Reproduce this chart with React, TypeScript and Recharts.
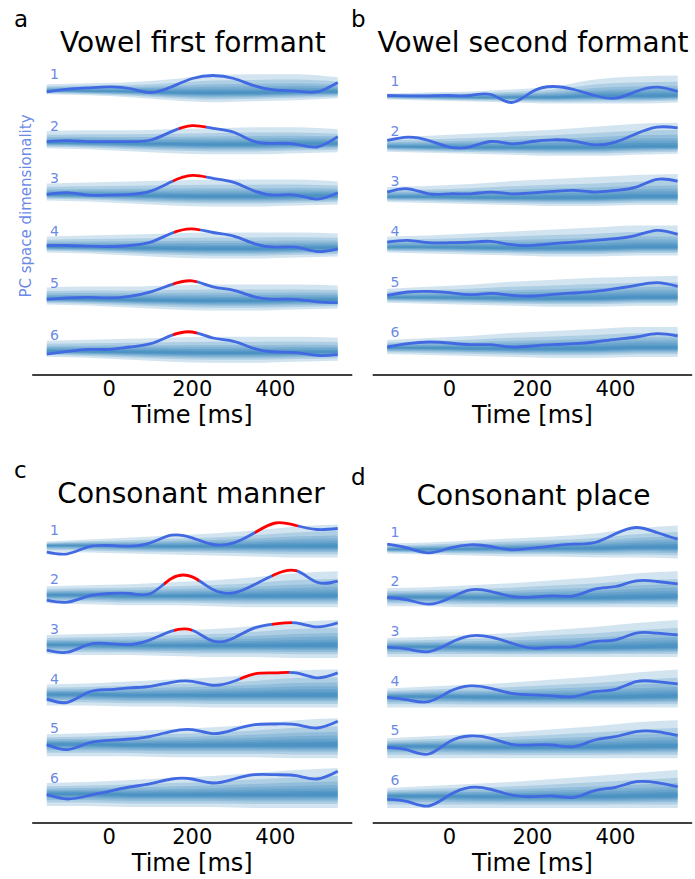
import React from 'react';
import { ComposedChart, Line, Area, XAxis, YAxis, ReferenceDot } from 'recharts';

// time grid of the traces (ms) and the coarser grid of the null bands
const times = [-150, -100, -50, 0, 50, 100, 150, 200, 250, 300, 350, 400, 450, 500, 550];
const bandTimes = [-150, -50, 50, 150, 250, 350, 450, 550];
const xTicks = [0, 200, 400];
const rowNames = ['1', '2', '3', '4', '5', '6'];
const titles = ['Vowel first formant', 'Vowel second formant', 'Consonant manner', 'Consonant place'];

// observed traces, one list per PC dimensionality (offset from the row baseline)
const traceA = [
  [-1.7, 1, 2.3, 3.3, 1.7, -2.3, 3.3, 11.7, 14.7, 11.7, 4.3, 0, -1, -1.7, 7.7],
  [0.7, 1.7, 0.7, 0.7, 0.7, 2.3, 10.7, 16.7, 14, 10, 0.7, -1, -2, -4.7, 5.7],
  [0, 1.7, -0.7, -0.7, 0, 3.3, 12.7, 19, 16, 12, 3.3, -0.7, -0.7, -4.7, 1.7],
  [1, 1, 0.3, 0, 1, 4.3, 13.3, 17.7, 14, 10.3, 2.7, -0.7, -0.7, -5, -2.3],
  [-0.7, 0.7, 1.3, 0.7, 2.3, 6.7, 14, 17.7, 11.7, 8.3, 1.7, -0.7, -0.7, -3.3, -4],
  [-3.3, -0.7, 1.3, 1.3, 3.7, 7, 15.3, 18.7, 12.7, 9.3, 2, -1.3, -2, -4.7, -4],
];
const traceB = [
  [1, 0.7, 0.7, 1, 1, 2, -6, 5, 10, 7, 1, -1.7, 5, 9.3, 5],
  [6.3, 9.7, 6.3, -0.3, 0, 5.3, 3, 5.3, 7, 5.7, 2, 4.7, 13, 19.7, 19],
  [5, 8.3, 3.3, 3.3, 3.3, 5, 3.3, 4.3, 5.7, 6.7, 5, 6.7, 10, 17.7, 16],
  [5.3, 7, 4.7, 4.7, 5.3, 6, 2.7, 2, 3.7, 5.3, 7, 8.7, 12, 17, 13],
  [2.3, 5.7, 6.3, 5, 3, 4.3, 2.3, 1.7, 3.3, 4.7, 6.3, 9, 12.3, 15, 11.3],
  [1, 4.3, 6, 5, 3.3, 3.3, 1, 2, 3.3, 4.3, 6, 8.7, 11, 14.3, 12],
];
const traceC = [
  [-6.7, -8.3, -1.3, 0, -0.7, 2.7, 10.3, 7.7, 1, 2.7, 12.7, 22.5, 20, 16, 17],
  [-5, -7, -1, 1.7, 1.7, 1.7, 16.7, 18.3, 5.7, 2.3, 10.7, 21, 24.5, 13, 14],
  [-5.3, -7.3, 0.3, 1.3, 0.3, 5.3, 13.7, 14.7, 3.7, 7, 17, 21, 22, 18, 22],
  [-4.3, -7.7, 2.3, 5, 6.7, 8.3, 12.3, 13.3, 9.3, 13.3, 20.7, 21.7, 21.7, 16.7, 21.7],
  [-0.3, -5.3, 1.3, 4, 5.3, 8, 13, 14.7, 10.7, 14.7, 19.7, 20.3, 19.7, 16.3, 23],
  [-0.7, -5, -1.7, 2.7, 7, 10.3, 15, 15, 11, 15, 19.3, 19.3, 18.3, 15, 22.7],
];
const traceD = [
  [3.3, -0.7, -5.3, -0.7, 2.7, 1, -2.3, -0.7, 1.7, 3.3, 5, 13.7, 20, 15, 8.3],
  [-0.3, -2.7, -7, -1, 7.3, 5.7, 0.7, 0, 1.3, 1.3, 8, 10.7, 16.3, 15.7, 13.3],
  [-0.3, -2.3, -4.7, 3.7, 11, 9.7, 3.7, -1.3, -0.3, 0.3, 5.3, 7, 13.7, 13.7, 12],
  [-0.7, -3.3, -5, 5, 10.7, 8.3, 3.3, 1.7, 0.7, 0, 5, 7.3, 15, 15, 12.7],
  [-1, -3.7, -7.7, 4.7, 10.3, 8, 2, 1.3, 1.3, -0.3, 6.3, 9.7, 14.7, 14.7, 10.7],
  [-3.3, -5.7, -10, 1, 8.7, 6.7, 1, -0.7, 0, -1.3, 5.3, 8.7, 14.3, 13.3, 9.3],
];

// null distribution: upper edge, centre, lower edge (on bandTimes)
const hiA = [
  [6, 7, 8, 11, 15, 16, 16, 13],
  [11, 12, 12, 13, 14, 15, 15, 13],
  [11, 12, 13, 14, 15, 15, 15, 13],
  [10, 11, 12, 13, 14, 14, 14, 13],
  [11, 12, 12, 13, 14, 14, 14, 13],
  [10, 11, 12, 13, 14, 14, 14, 13],
];
const midA = [
  [-0.5, -1, -1.5, -2.5, -3, -3, -2, -2],
  [-0.5, -1, -1.5, -2, -2.5, -2.5, -2, -1.5],
  [-0.5, -1, -1.5, -2, -2.5, -2.5, -2, -1.5],
  [-0.5, -1, -1.5, -2, -2.5, -2.5, -2, -1.5],
  [-0.5, -1, -1.5, -2, -2.5, -2.5, -2, -1.5],
  [-0.5, -1, -1.5, -2, -2.5, -2.5, -2, -1.5],
];
const loA = [
  [-4, -5, -7, -10, -12, -11, -10, -8],
  [-6, -7, -9, -11, -12, -12, -11, -10],
  [-6, -7, -9, -11, -12, -12, -11, -10],
  [-6, -7, -9, -11, -12, -12, -11, -10],
  [-6, -7, -9, -11, -12, -12, -11, -10],
  [-6, -7, -9, -11, -12, -12, -11, -10],
];
const hiB = [
  [3, 4, 5, 7, 10, 17, 20, 21],
  [9, 11, 13, 15, 17, 20, 23, 24],
  [10, 11, 13, 16, 18, 20, 22, 23],
  [11, 12, 14, 16, 18, 20, 22, 22],
  [9, 11, 13, 16, 18, 20, 21, 22],
  [8, 10, 12, 15, 17, 19, 21, 21],
];
const midB = [
  [0, -0.5, -1, -1, -1, 0, 0, 0.5],
  [0, -0.5, -1, -1, -1, -1, 0, 0],
  [0, 0, -0.5, -1, -1, -1, 0, 0],
  [0, 0, -0.5, -1, -1, -1, 0, 0],
  [0, 0, -0.5, -1, -1, -1, 0, 0],
  [0, 0, -0.5, -1, -1, -1, 0, 0],
];
const loB = [
  [-3, -4, -5, -6, -7, -7, -7, -6],
  [-5, -6, -7, -8, -9, -9, -8, -7],
  [-5, -6, -7, -8, -9, -9, -8, -8],
  [-5, -6, -7, -8, -9, -9, -8, -8],
  [-5, -6, -7, -8, -9, -9, -8, -8],
  [-6, -7, -8, -9, -10, -10, -9, -9],
];
const hiC = [
  [4, 6, 8, 10, 12, 15, 19, 21],
  [9, 10, 11, 13, 15, 18, 22, 24],
  [10, 11, 12, 14, 16, 19, 23, 25],
  [10, 11, 13, 15, 17, 20, 24, 25],
  [10, 11, 13, 15, 17, 20, 24, 26],
  [11, 12, 14, 16, 18, 21, 24, 26],
];
const midC = [
  [0, 0, -1, -1, -1, -1, -1, -1],
  [0, 0, -1, -1, -1, -1, -1, -1],
  [0, 0, -1, -1, -1, -1, -1, -1],
  [0, 0, -1, -1, -1, -1, -1, -1],
  [0, 0, -1, -1, -1, -1, -1, -1],
  [0, 0, -1, -1, -1, -1, -1, -1],
];
const loC = [
  [-6, -7, -8, -9, -10, -11, -12, -12],
  [-8, -9, -10, -10, -11, -12, -12, -12],
  [-9, -10, -10, -11, -12, -12, -13, -13],
  [-11, -11, -12, -12, -13, -13, -13, -13],
  [-12, -12, -12, -13, -13, -13, -14, -14],
  [-12, -12, -13, -13, -13, -14, -14, -14],
];
const hiD = [
  [4, 5, 7, 9, 11, 14, 19, 22],
  [9, 10, 12, 14, 17, 20, 24, 26],
  [9, 10, 12, 14, 17, 20, 24, 27],
  [8, 10, 12, 14, 17, 20, 24, 27],
  [8, 10, 12, 14, 17, 20, 24, 26],
  [8, 10, 12, 14, 17, 20, 23, 26],
];
const midD = [
  [-2, -2, -1.5, -1, -1, -1, 0, 0],
  [0, 0, -0.5, -1, -1, -1, -0.5, 0],
  [0, 0, -0.5, -1, -1, -1, -0.5, 0],
  [0, 0, -0.5, -1, -1, -1, -0.5, 0],
  [0, 0, -0.5, -1, -1, -1, -0.5, 0],
  [0, 0, -0.5, -1, -1, -1, -0.5, 0],
];
const loD = [
  [-6, -7, -8, -9, -9, -10, -10, -11],
  [-9, -9, -10, -10, -10, -10, -10, -10],
  [-10, -10, -10, -10, -10, -10, -10, -10],
  [-11, -11, -11, -11, -11, -11, -11, -11],
  [-12, -12, -12, -12, -12, -12, -12, -12],
  [-12, -12, -12, -12, -12, -12, -12, -12],
];

// significant windows [start, end] in ms, per row
const sigA = [[], [[167, 232]], [[154, 233]], [[156, 218]], [[153, 211]], [[153, 211]]];
const sigB = [[], [], [], [], [], []];
const sigC = [[[351, 455]], [[133, 217], [391, 451]], [[157, 200], [391, 440]], [[315, 432]], [], []];
const sigD = [[], [], [], [], [], []];

// nested shading levels, as a fraction of the band half-width
const LEVELS = [1, 0.7, 0.5, 0.36, 0.25, 0.16, 0.09];
const FONT = 'DejaVu Sans';
const TRACE = '#4169e1';
const SIG = '#ff0000';
const BAND = '#1f77b4';

type Panel = {
  id: string;
  trace: number[][];
  hi: number[][];
  mid: number[][];
  lo: number[][];
  sig: number[][][];
  gap: number;
  yDomain: [number, number];
  left: number;
  top: number;
  width: number;
  margin: { top: number; right: number; bottom: number; left: number };
};

const panels: Panel[] = [
  { id: 'a', trace: traceA, hi: hiA, mid: midA, lo: loA, sig: sigA, gap: 52.1, yDomain: [-24.3, 305.7],
    left: 0, top: 0, width: 360, margin: { top: 45, right: 7.7, bottom: 5, left: 32.2 } },
  { id: 'b', trace: traceB, hi: hiB, mid: midB, lo: loB, sig: sigB, gap: 50.3, yDomain: [-27, 303],
    left: 340, top: 0, width: 355, margin: { top: 45, right: 2.8, bottom: 5, left: 32.7 } },
  { id: 'c', trace: traceC, hi: hiC, mid: midC, lo: loC, sig: sigC, gap: 49.7, yDomain: [-29, 301],
    left: 0, top: 448, width: 360, margin: { top: 45, right: 7.7, bottom: 5, left: 32.2 } },
  { id: 'd', trace: traceD, hi: hiD, mid: midD, lo: loD, sig: sigD, gap: 49.7, yDomain: [-27, 303],
    left: 340, top: 448, width: 355, margin: { top: 45, right: 2.8, bottom: 5, left: 32.7 } },
];

function buildTable(p: Panel) {
  return times.map((t, i) => {
    const row: Record<string, any> = { t };
    const bi = bandTimes.indexOf(t);
    p.trace.forEach((tr, r) => {
      const off = (5 - r) * p.gap;
      row[`v${r}`] = off + tr[i];
      if (bi >= 0) {
        const m = off + p.mid[r][bi];
        const h = off + p.hi[r][bi];
        const l = off + p.lo[r][bi];
        LEVELS.forEach((f, k) => {
          row[`b${r}_${k}`] = [m - f * (m - l), m + f * (h - m)];
        });
      }
    });
    return row;
  });
}

const RowLabel = (props: any) => {
  const vb = props.viewBox || { x: 0, y: 0 };
  return (
    <text x={vb.x} y={vb.y} fill={TRACE} fillOpacity={0.8} fontSize={14} fontFamily={FONT}>
      {props.n}
    </text>
  );
};

function PanelChart({ p }: { p: Panel }) {
  const data = buildTable(p);
  const t0 = times[0];
  const span = times[times.length - 1] - t0;
  const frac = (t: number) => (t - t0) / span;

  return (
    <div style={{ position: 'absolute', left: p.left, top: p.top }}>
      <ComposedChart width={p.width} height={428} data={data} margin={p.margin}>
        <defs>
          {p.sig.map((wins, r) =>
            wins.length ? (
              <linearGradient key={r} id={`sig-${p.id}-${r}`} x1="0" y1="0" x2="1" y2="0">
                <stop offset={0} stopColor={TRACE} />
                {wins.map(([s, e], w) => (
                  <React.Fragment key={w}>
                    <stop offset={frac(s)} stopColor={TRACE} />
                    <stop offset={frac(s)} stopColor={SIG} />
                    <stop offset={frac(e)} stopColor={SIG} />
                    <stop offset={frac(e)} stopColor={TRACE} />
                  </React.Fragment>
                ))}
                <stop offset={1} stopColor={TRACE} />
              </linearGradient>
            ) : null
          )}
        </defs>
        <XAxis
          dataKey="t"
          type="number"
          domain={[-185, 585]}
          allowDataOverflow
          ticks={xTicks}
          tickLine={false}
          tickSize={6}
          tickMargin={0}
          height={48}
          axisLine={{ stroke: '#000', strokeWidth: 1.3 }}
          tick={{ fill: '#000', fontSize: 21, fontFamily: FONT }}
          label={{ value: 'Time [ms]', position: 'insideBottom', offset: 0, fill: '#000', fontSize: 24, fontFamily: FONT }}
        />
        <YAxis hide type="number" domain={p.yDomain} allowDataOverflow />
        {p.trace.map((_, r) =>
          LEVELS.map((_f, k) => (
            <Area
              key={`b${r}_${k}`}
              dataKey={`b${r}_${k}`}
              type="monotone"
              connectNulls
              stroke="none"
              fill={BAND}
              fillOpacity={0.2}
              activeDot={false}
              isAnimationActive={false}
            />
          ))
        )}
        {p.trace.map((_, r) => (
          <Line
            key={`v${r}`}
            dataKey={`v${r}`}
            type="natural"
            stroke={p.sig[r].length ? `url(#sig-${p.id}-${r})` : TRACE}
            strokeWidth={2.8}
            dot={false}
            activeDot={false}
            isAnimationActive={false}
          />
        ))}
        {rowNames.map((n, r) => (
          <ReferenceDot
            key={n}
            x={-142}
            y={(5 - r) * p.gap + 11}
            r={0}
            fill="none"
            stroke="none"
            label={<RowLabel n={n} />}
          />
        ))}
      </ComposedChart>
    </div>
  );
}

export default function App() {
  return (
    <div style={{ position: 'absolute', left: 0, top: 0, width: 695, height: 879, background: '#fff', overflow: 'hidden' }}>
      {panels.map((p) => (
        <PanelChart key={p.id} p={p} />
      ))}
      <svg width={695} height={879} style={{ position: 'absolute', left: 0, top: 0, pointerEvents: 'none' }}>
        <g fontFamily={FONT} fill="#000">
          <text x={14} y={27} fontSize={23}>a</text>
          <text x={351} y={27} fontSize={23}>b</text>
          <text x={14} y={478} fontSize={23}>c</text>
          <text x={351} y={485} fontSize={23}>d</text>
          <text x={192.8} y={52} fontSize={28} textAnchor="middle">{titles[0]}</text>
          <text x={533} y={52} fontSize={28} textAnchor="middle">{titles[1]}</text>
          <text x={191} y={503} fontSize={28} textAnchor="middle">{titles[2]}</text>
          <text x={533.5} y={505} fontSize={28} textAnchor="middle">{titles[3]}</text>
        </g>
        <text
          transform="translate(31,206) rotate(-90)"
          textAnchor="middle"
          fontFamily={FONT}
          fontSize={15}
          fill={TRACE}
          fillOpacity={0.8}
        >
          PC space dimensionality
        </text>
      </svg>
    </div>
  );
}
